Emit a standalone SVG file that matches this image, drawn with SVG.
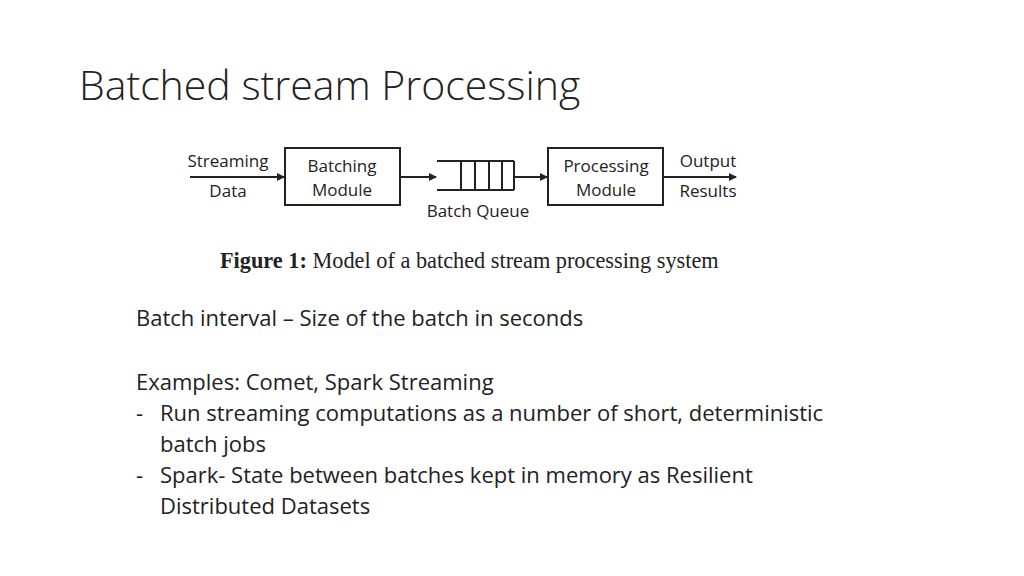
<svg xmlns="http://www.w3.org/2000/svg" width="1024" height="576" viewBox="0 0 1024 576">
<style>
.t{font-family:"Open Sans","Noto Sans",sans-serif;fill:#222}
.d{font-family:"Open Sans","Noto Sans",sans-serif;font-size:17px;fill:#222}
.b{fill:#fff;stroke:#222;stroke-width:2}
.l{stroke:#222;stroke-width:2;fill:none}
</style>
<defs><marker id="a" markerWidth="8" markerHeight="8" refX="7" refY="4" orient="auto" markerUnits="userSpaceOnUse"><path d="M0,0L8,4L0,8z" fill="#222"/></marker></defs>
<rect width="1024" height="576" fill="#fff"/>
<text class="t" x="79" y="100" font-size="41" font-weight="300">Batched stream Processing</text>
<g id="connectors">
<line class="l" x1="190" y1="177" x2="284" y2="177" marker-end="url(#a)"/>
<line class="l" x1="400" y1="177" x2="436" y2="177" marker-end="url(#a)"/>
<line class="l" x1="514" y1="177" x2="547" y2="177" marker-end="url(#a)"/>
<line class="l" x1="663" y1="177" x2="736" y2="177" marker-end="url(#a)"/>
</g>
<g id="input"><text class="d" x="228" y="167" text-anchor="middle">Streaming</text><text class="d" x="228" y="197" text-anchor="middle">Data</text></g>
<g id="batching"><rect class="b" x="285" y="148" width="115" height="57"/><text class="d" x="342" y="172" text-anchor="middle">Batching</text><text class="d" x="342" y="196" text-anchor="middle">Module</text></g>
<g id="queue"><path class="l" d="M437,161H514M437,190H514M461,161V190M475,161V190M489,161V190M502,161V190M514,161V190"/><text class="d" x="478" y="217" text-anchor="middle">Batch Queue</text></g>
<g id="processing"><rect class="b" x="548" y="148" width="115" height="57"/><text class="d" x="606" y="172" text-anchor="middle">Processing</text><text class="d" x="606" y="196" text-anchor="middle">Module</text></g>
<g id="output"><text class="d" x="708" y="167" text-anchor="middle">Output</text><text class="d" x="708" y="197" text-anchor="middle">Results</text></g>
<text x="220" y="268" font-family="Liberation Serif,serif" font-size="22.3" fill="#222"><tspan font-weight="bold">Figure 1:</tspan> Model of a batched stream processing system</text>
<g class="t" font-size="22">
<text x="136" y="326">Batch interval – Size of the batch in seconds</text>
<text x="136" y="390">Examples: Comet, Spark Streaming</text>
<text x="136" y="421">-</text><text x="160" y="421">Run streaming computations as a number of short, deterministic</text>
<text x="160" y="452">batch jobs</text>
<text x="136" y="483">-</text><text x="160" y="483">Spark- State between batches kept in memory as Resilient</text>
<text x="160" y="514">Distributed Datasets</text>
</g>
</svg>
